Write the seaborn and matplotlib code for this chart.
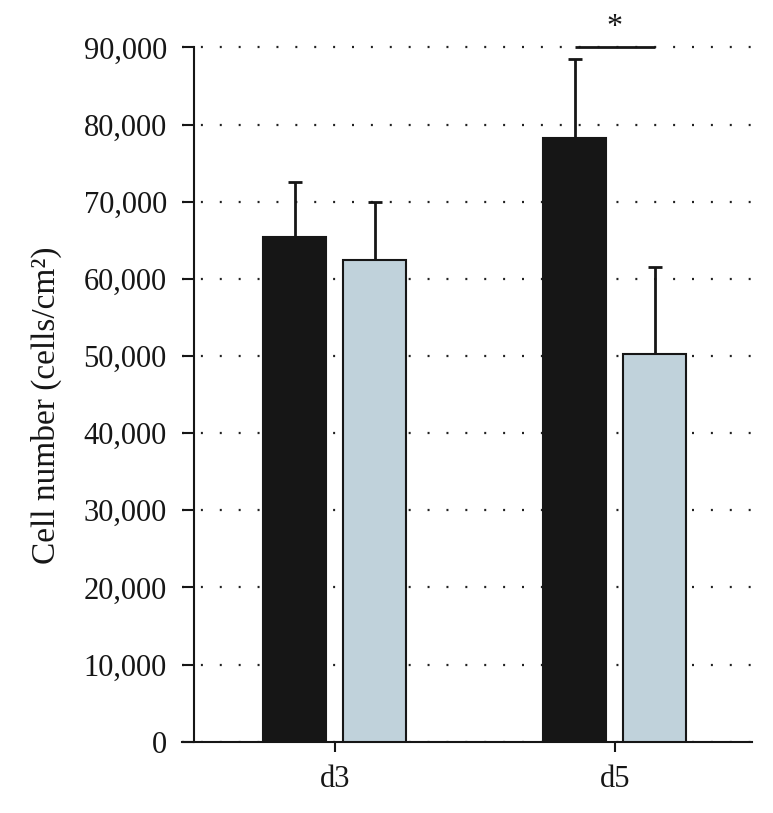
import matplotlib
matplotlib.use("Agg")
import matplotlib.pyplot as plt
import seaborn as sns
import pandas as pd
import numpy as np

days = ["d3", "d5"]
groups = ["Group A", "Group B"]
means_a = [65400, 78200]
means_b = [62400, 50300]
err_a = [7100, 10300]
err_b = [7500, 11200]
yticks = [0, 10000, 20000, 30000, 40000, 50000, 60000, 70000, 80000, 90000]
ytick_labels = ["0", "10,000", "20,000", "30,000", "40,000", "50,000",
                "60,000", "70,000", "80,000", "90,000"]

df = pd.DataFrame({
    "day": days * 2,
    "group": [groups[0]] * 2 + [groups[1]] * 2,
    "value": means_a + means_b,
    "err": err_a + err_b,
})

sns.set_theme(style="white")
plt.rcParams["font.family"] = ["Liberation Serif", "DejaVu Serif"]

fig = plt.figure(figsize=(7.73, 8.13), dpi=100)
ax = fig.add_axes([0.2354, 0.0877, 0.7374, 0.9015])

palette = {groups[0]: "#161616", groups[1]: "#c0d2db"}
sns.barplot(data=df, x="day", y="value", hue="group", palette=palette,
            width=0.57, gap=0.21, errorbar=None, edgecolor="#161616",
            linewidth=1.5, saturation=1, ax=ax, legend=False, zorder=3)

# error bars (upper only) from bar patches
patches = [p for p in ax.patches if p.get_height() > 0]
patches = sorted(patches, key=lambda p: p.get_x())
ordered_vals = []
ordered_errs = []
for d_i in range(len(days)):
    ordered_vals += [means_a[d_i], means_b[d_i]]
    ordered_errs += [err_a[d_i], err_b[d_i]]
centers = [p.get_x() + p.get_width() / 2 for p in patches]
ax.errorbar(centers, ordered_vals,
            yerr=[np.zeros(len(ordered_errs)), ordered_errs],
            fmt="none", ecolor="#161616", elinewidth=2.0, capsize=5,
            capthick=2.0, zorder=2)

# significance line for d5
p_black, p_light = patches[2], patches[3]
x0 = p_black.get_x() + p_black.get_width() / 2
x1 = p_light.get_x() + p_light.get_width() / 2
ax.plot([x0, x1], [90000, 90000], color="#161616", lw=2.0, zorder=4,
        solid_capstyle="butt")
ax.text((x0 + x1) / 2, 92600, "*", ha="center", va="center",
        fontsize=23, color="#161616")

ax.set_xlim(-0.546, 1.49)
ax.set_ylim(0, 95000)
ax.set_yticks(yticks)
ax.set_yticklabels(ytick_labels)
ax.set_xticks([0, 1])
ax.set_xticklabels(days)

ax.yaxis.grid(True, color="#222222", linestyle=(0, (0.9, 7.6)), linewidth=1.6)
ax.set_axisbelow(True)

for s in ["top", "right"]:
    ax.spines[s].set_visible(False)
ax.spines["left"].set_position(("axes", 0.021))
ax.spines["left"].set_bounds(0, 90000)
for s in ["left", "bottom"]:
    ax.spines[s].set_color("#161616")
    ax.spines[s].set_linewidth(1.5)

ax.tick_params(axis="y", direction="out", length=8.5, width=1.5,
               color="#161616", labelsize=22, pad=11, left=True)
ax.tick_params(axis="x", direction="out", length=7, width=1.5,
               color="#161616", labelsize=22, pad=10, bottom=True)
ax.set_xlabel("")
ax.set_ylabel("Cell number (cells/cm²)", fontsize=24, color="#161616")
ax.yaxis.set_label_coords(-0.21, 0.459)
plt.setp(ax.get_xticklabels() + ax.get_yticklabels(), color="#161616")

fig.savefig("out.png", dpi=100)
